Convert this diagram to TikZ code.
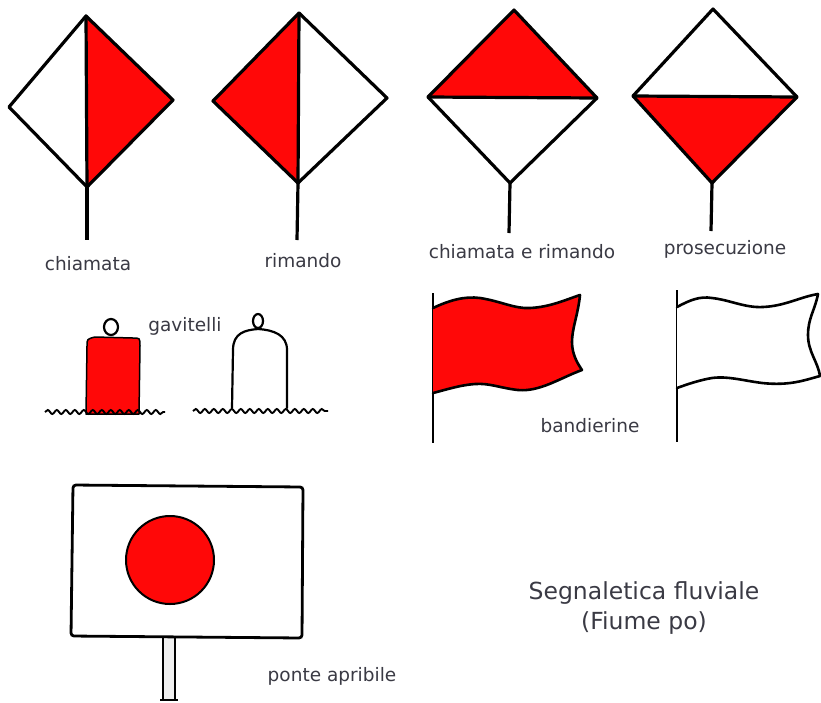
\documentclass[tikz,border=0pt]{standalone}
\usepackage{fontspec}
\setmainfont{DejaVu Sans}
\usetikzlibrary{decorations.pathmorphing}
\definecolor{signred}{RGB}{255,8,8}
\definecolor{labelgray}{RGB}{58,58,68}
\tikzset{
  outline/.style={draw=black, line width=3.2pt, line join=round, line cap=round},
  thinline/.style={draw=black, line width=2.2pt, line join=round, line cap=round},
  polestyle/.style={draw=black, line width=3.2pt},
  label/.style={text=labelgray, font=\fontsize{18.5}{22}\selectfont, inner sep=0pt},
  water/.style={draw=black, line width=1.9pt, decorate,
    decoration={snake, amplitude=2pt, segment length=9pt}}
}
\begin{document}
\begin{tikzpicture}[x=1pt, y=-1pt]
\useasboundingbox (0,0) rectangle (821,702);
\fill[white] (0,0) rectangle (821,702);

% --- chiamata: right half red ---
\coordinate (aT) at (86,16); \coordinate (aL) at (9,107);
\coordinate (aR) at (173,100); \coordinate (aB) at (87,187);
\fill[signred] (aT) -- (aR) -- (aB) -- cycle;
\draw[polestyle] (aB) -- (87,240);
\draw[outline] (aT) -- (aR) -- (aB) -- (aL) -- cycle;
\draw[outline] (aT) -- (aB);
\node[label] (lab1) at (88,264) {chiamata};

% --- rimando: left half red ---
\coordinate (bT) at (299,13); \coordinate (bL) at (213,101);
\coordinate (bR) at (387,98); \coordinate (bB) at (298,183);
\fill[signred] (bT) -- (bL) -- (bB) -- cycle;
\draw[polestyle] (bB) -- (297,240);
\draw[outline] (bT) -- (bR) -- (bB) -- (bL) -- cycle;
\draw[outline] (bT) -- (bB);
\node[label] (lab2) at (303,261) {rimando};

% --- chiamata e rimando: upper half red ---
\coordinate (cT) at (514,10); \coordinate (cL) at (428,97);
\coordinate (cR) at (597,98); \coordinate (cB) at (510,183);
\fill[signred] (cT) -- (cL) -- (cR) -- cycle;
\draw[polestyle] (cB) -- (509,233);
\draw[outline] (cT) -- (cR) -- (cB) -- (cL) -- cycle;
\draw[outline] (cL) -- (cR);
\node[label] (lab3) at (522,252) {chiamata e rimando};

% --- prosecuzione: lower half red ---
\coordinate (dT) at (713,9); \coordinate (dL) at (633,96);
\coordinate (dR) at (797,97); \coordinate (dB) at (712,183);
\fill[signred] (dL) -- (dR) -- (dB) -- cycle;
\draw[polestyle] (dB) -- (711,231);
\draw[outline] (dT) -- (dR) -- (dB) -- (dL) -- cycle;
\draw[outline] (dL) -- (dR);
\node[label] (lab4) at (725,249) {prosecuzione};

% --- buoys ---
\draw[thinline] (111,327) ellipse (7 and 8);
\filldraw[fill=signred, draw=black, line width=1.5pt, line join=round]
  (86,414) -- (87,346) .. controls (87,339) .. (95,337)
  -- (133,338) .. controls (140,338) .. (140,346) -- (139,414) -- cycle;
\draw[water] (45,412) -- (165,412);

\draw[thinline] (258,321) ellipse (5 and 7);
\filldraw[fill=white, thinline]
  (232,408) -- (233,350) .. controls (233,333) and (245,330) .. (258,329)
  .. controls (274,330) and (287,335) .. (287,350) -- (287,408);
\draw[water] (193,411) -- (328,411);
\node[label] (lab5) at (185,326) {gavitelli};

% --- flags ---
\draw[polestyle, line width=2.8pt] (433,293) -- (433,443);
\filldraw[fill=signred, thinline, line width=2.6pt]
  (433,308) .. controls (450,300) and (465,296) .. (480,298)
  .. controls (500,301) and (515,309) .. (530,308)
  .. controls (550,307) and (565,300) .. (580,295)
  .. controls (578,315) and (572,328) .. (572,342)
  .. controls (572,355) and (578,364) .. (582,370)
  .. controls (560,378) and (540,392) .. (518,390)
  .. controls (500,388) and (490,383) .. (475,384)
  .. controls (460,385) and (445,390) .. (433,393);

\draw[polestyle, line width=2.8pt] (677,290) -- (677,442);
\filldraw[fill=white, thinline, line width=2.6pt]
  (677,307) .. controls (690,300) and (700,296) .. (712,298)
  .. controls (730,300) and (745,308) .. (763,307)
  .. controls (785,306) and (800,297) .. (818,294)
  .. controls (815,310) and (808,318) .. (808,335)
  .. controls (808,352) and (818,362) .. (820,376)
  .. controls (805,380) and (790,386) .. (762,383)
  .. controls (740,380) and (728,376) .. (712,378)
  .. controls (700,380) and (688,384) .. (677,388);
\node[label] (lab6) at (590,426) {bandierine};

% --- ponte apribile board ---
\fill[black!6] (163,638) rectangle (175,700);
\draw[line width=1.8pt] (163,638) -- (163,700) (175,638) -- (175,700);
\draw[line width=2.6pt] (160,700) -- (178,700);
\filldraw[fill=white, draw=black, line width=2.8pt, rounded corners=3pt]
  (73,485) -- (303,487) -- (302,638) -- (71,636) -- cycle;
\filldraw[fill=signred, draw=black, line width=2pt] (170,560) circle (44);
\node[label] (lab7) at (332,676) {ponte apribile};

% --- title ---
\node[text=labelgray, font=\fontsize{23.5}{30}\selectfont, align=center, inner sep=0pt]
  (title) at (644,608) {Segnaletica fluviale\\(Fiume po)};
\end{tikzpicture}
\end{document}
